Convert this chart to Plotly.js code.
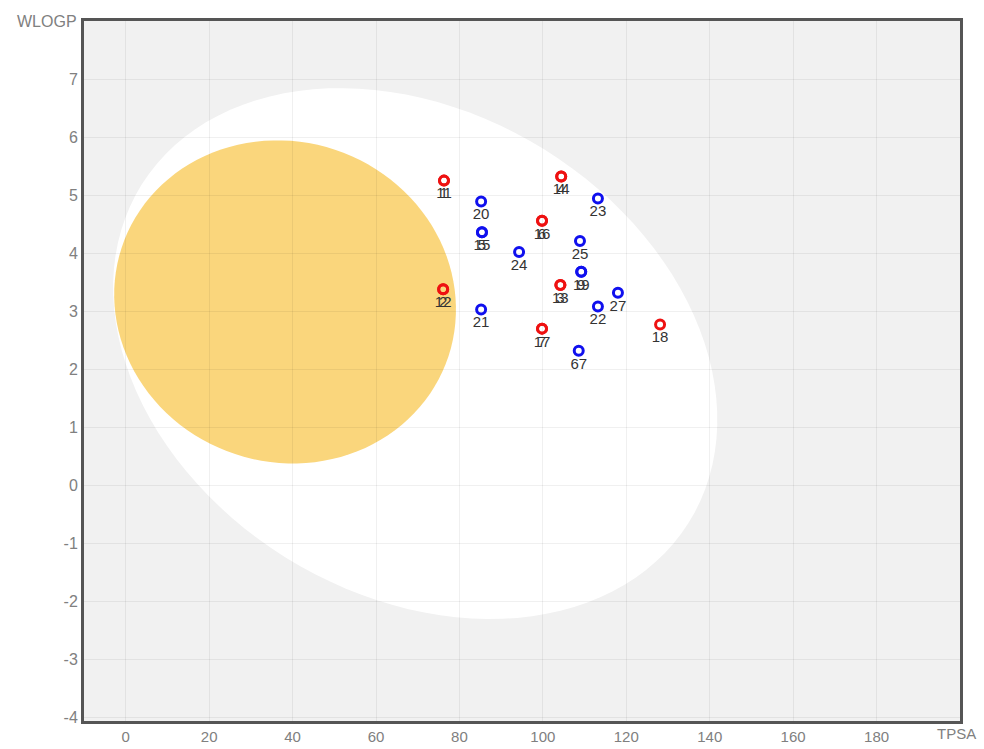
<!DOCTYPE html>
<html>
<head>
<meta charset="utf-8">
<script src="https://cdn.plot.ly/plotly-3.0.1.min.js"></script>
<style>html,body{margin:0;padding:0;background:#fff;}#chart{width:984px;height:749px;}</style>
</head>
<body>
<div id="chart"></div>
<script>
// Molecules: labels, TPSA, WLOGP, P-gp class (red = PGP-, blue = PGP+)
const redLabels = ["1","11","4","14","6","16","3","13","2","12","7","17","18"];
const redTPSA   = [76.3,76.3,104.4,104.4,99.8,99.8,104.2,104.2,76.1,76.1,99.8,99.8,128.1];
const redWLOGP  = [5.25,5.25,5.32,5.32,4.56,4.56,3.45,3.45,3.38,3.38,2.70,2.70,2.77];

const blueLabels = ["20","23","5","15","25","24","9","19","27","22","21","67"];
const blueTPSA   = [85.2,113.2,85.4,85.4,108.9,94.3,109.2,109.2,118.0,113.2,85.2,108.6];
const blueWLOGP  = [4.89,4.94,4.36,4.36,4.21,4.02,3.68,3.68,3.32,3.08,3.03,2.32];

const xTicks = [0,20,40,60,80,100,120,140,160,180];
const yTicks = [-4,-3,-2,-1,0,1,2,3,4,5,6,7];

// Ellipses (center + two half-axis vectors in data units)
const whiteEgg = {cx:69.4, cy:2.27, ux:65.5, uy:-2.92, vx:-30.9, vy:-3.52};
const yolk     = {cx:38.2, cy:3.16, ux:38.5, uy:-1.07, vx:-14.0, vy:-2.57};

function ellipsePath(e){
  const n = 120; let d = "";
  for(let i=0;i<=n;i++){
    const t = 2*Math.PI*i/n;
    const x = e.cx + e.ux*Math.cos(t) + e.vx*Math.sin(t);
    const y = e.cy + e.uy*Math.cos(t) + e.vy*Math.sin(t);
    d += (i===0?"M":"L") + x.toFixed(3) + "," + y.toFixed(3);
  }
  return d + "Z";
}

const font = {family:"Liberation Sans, Arial, sans-serif"};
const labelFont = {family:"Liberation Sans, Arial, sans-serif", size:15, color:"#333"};

const traces = [
  {x:blueTPSA, y:blueWLOGP, text:blueLabels, mode:"markers+text", type:"scatter",
   textposition:"bottom center", textfont:labelFont, cliponaxis:false,
   marker:{symbol:"circle-open", size:9, color:"#1010ee", line:{width:3}}, hoverinfo:"text"},
  {x:redTPSA, y:redWLOGP, text:redLabels, mode:"markers+text", type:"scatter",
   textposition:"bottom center", textfont:labelFont, cliponaxis:false,
   marker:{symbol:"circle-open", size:9, color:"#ee1111", line:{width:3}}, hoverinfo:"text"}
];

const layout = {
  width:984, height:749,
  margin:{l:84, r:24, t:21, b:28},
  paper_bgcolor:"#ffffff", plot_bgcolor:"#f1f1f1",
  showlegend:false, font:font,
  xaxis:{range:[-10,200], tickvals:xTicks, ticktext:xTicks.map(String),
    showgrid:true, gridcolor:"rgba(0,0,0,0.06)", gridwidth:1, zeroline:false,
    showline:true, mirror:true, linecolor:"#555", linewidth:3,
    ticks:"", ticklen:0, tickfont:{size:15, color:"#808080"}, fixedrange:true},
  yaxis:{range:[-4.06,8], tickvals:yTicks, ticktext:yTicks.map(String),
    showgrid:true, gridcolor:"rgba(0,0,0,0.06)", gridwidth:1, zeroline:false,
    showline:true, mirror:true, linecolor:"#555", linewidth:3,
    ticks:"", tickfont:{size:16, color:"#808080"}, fixedrange:true},
  shapes:[
    {type:"path", path:ellipsePath(whiteEgg), xref:"x", yref:"y", fillcolor:"#ffffff", line:{width:0}, layer:"below"},
    {type:"path", path:ellipsePath(yolk), xref:"x", yref:"y", fillcolor:"#fad67c", line:{width:0}, layer:"below"}
  ],
  annotations:[
    {text:"WLOGP", xref:"paper", yref:"paper", x:0, y:1, xanchor:"right", yanchor:"middle",
     xshift:-5, showarrow:false, font:{size:16, color:"#808080"}},
    {text:"TPSA", xref:"paper", yref:"paper", x:1, y:0, xanchor:"center", yanchor:"top",
     xshift:-4, yshift:-2, showarrow:false, font:{size:15, color:"#808080"}}
  ]
};

Plotly.newPlot("chart", traces, layout, {displayModeBar:false, staticPlot:true});
</script>
</body>
</html>
